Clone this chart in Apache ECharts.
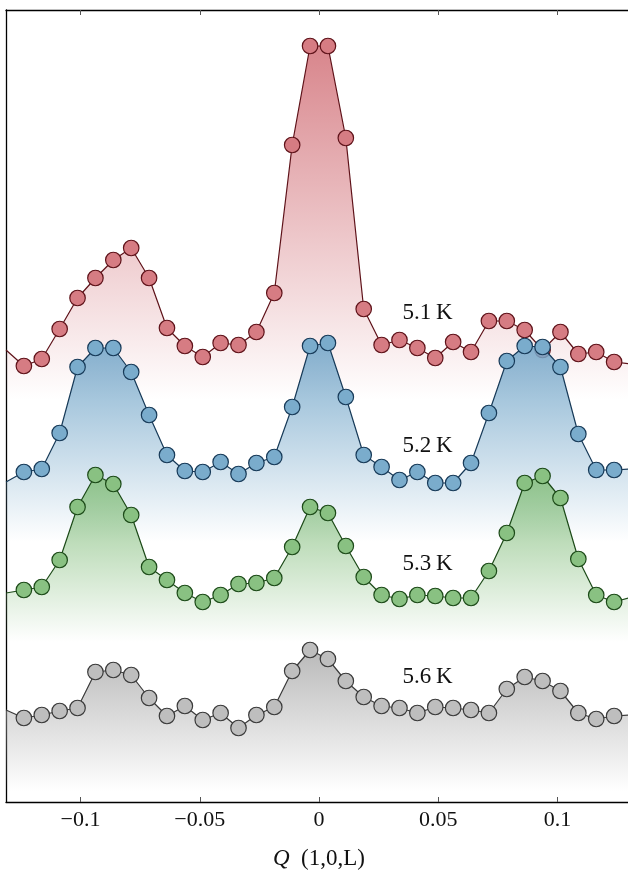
<!DOCTYPE html>
<html>
<head>
<meta charset="utf-8">
<script src="https://cdn.jsdelivr.net/npm/echarts@6/dist/echarts.min.js"></script>
<style>html,body{margin:0;padding:0;background:#fff}#c{width:628px;height:870px}</style>
</head>
<body>
<div id="c"></div>
<script>
// Q positions (first and last points lie at the frame edges, drawn without markers)
const qValues = [-0.13125, -0.12375, -0.11625, -0.10875, -0.10125, -0.09375, -0.08625, -0.07875, -0.07125, -0.06375,
  -0.05625, -0.04875, -0.04125, -0.03375, -0.02625, -0.01875, -0.01125, -0.00375, 0.00375, 0.01125,
  0.01875, 0.02625, 0.03375, 0.04125, 0.04875, 0.05625, 0.06375, 0.07125, 0.07875, 0.08625,
  0.09375, 0.10125, 0.10875, 0.11625, 0.12375, 0.13125];

// intensities (with vertical offsets already included)
const i51 = [4.52, 4.36, 4.43, 4.73, 5.04, 5.24, 5.42, 5.54, 5.24, 4.74, 4.56, 4.45, 4.59, 4.57, 4.70, 5.09, 6.57, 7.56, 7.56, 6.64,
  4.93, 4.57, 4.62, 4.54, 4.44, 4.60, 4.50, 4.81, 4.81, 4.72, 4.52, 4.70, 4.48, 4.50, 4.40, 4.38];
const i52 = [3.20, 3.30, 3.33, 3.69, 4.35, 4.54, 4.54, 4.30, 3.87, 3.47, 3.31, 3.30, 3.40, 3.28, 3.39, 3.45, 3.95, 4.56, 4.59, 4.05,
  3.47, 3.35, 3.22, 3.30, 3.19, 3.19, 3.39, 3.89, 4.41, 4.56, 4.55, 4.35, 3.68, 3.32, 3.32, 3.33];
const i53 = [2.09, 2.12, 2.15, 2.42, 2.95, 3.27, 3.18, 2.87, 2.35, 2.22, 2.09, 2.00, 2.07, 2.18, 2.19, 2.24, 2.55, 2.95, 2.89, 2.56,
  2.25, 2.07, 2.03, 2.07, 2.06, 2.04, 2.04, 2.31, 2.69, 3.19, 3.26, 3.04, 2.43, 2.07, 2.00, 2.05];
const i56 = [0.92, 0.84, 0.87, 0.91, 0.94, 1.30, 1.32, 1.27, 1.04, 0.86, 0.96, 0.82, 0.89, 0.74, 0.87, 0.95, 1.31, 1.52, 1.43, 1.21,
  1.05, 0.96, 0.94, 0.89, 0.95, 0.94, 0.92, 0.89, 1.13, 1.25, 1.21, 1.11, 0.89, 0.83, 0.86, 0.87];

const seriesNames = ['5.1\u2009K', '5.2\u2009K', '5.3\u2009K', '5.6\u2009K'];
const baselines = [4.02, 2.60, 1.60, 0.10];
const labelQ = [0.0455, 0.0455, 0.0455, 0.0455];
const labelY = [4.89, 3.56, 2.38, 1.25];
const tickValues = [-0.1, -0.05, 0, 0.05, 0.1];

const fills = ['#d67c83', '#7aaccc', '#89c182', '#bebebe'];
const edges = ['#5e1219', '#173a58', '#1c4a18', '#3a3a3a'];
const fillRGB = [[212,120,127],[118,168,202],[134,191,127],[178,178,178]];

const chart = echarts.init(document.getElementById('c'), null, {renderer: 'canvas'});
const allData = [i51, i52, i53, i56];

const series = allData.map((vals, s) => ({
  type: 'line',
  name: seriesNames[s],
  data: qValues.map((q, i) => ({
    value: [q, vals[i]],
    symbol: (i === 0 || i === qValues.length - 1) ? 'none' : 'circle'
  })),
  symbolSize: 15.5,
  showAllSymbol: true,
  clip: true,
  z: 2 + s,
  lineStyle: {color: edges[s], width: 1.2},
  itemStyle: {color: fills[s], borderColor: edges[s], borderWidth: 1.2, opacity: 1},
  areaStyle: {
    origin: baselines[s],
    opacity: 1,
    color: new echarts.graphic.LinearGradient(0, 0, 0, 1, [
      {offset: 0, color: `rgba(${fillRGB[s].join(',')},0.9)`},
      {offset: 1, color: `rgba(${fillRGB[s].join(',')},0)`}
    ])
  },
  emphasis: {disabled: true},
  markPoint: {
    symbol: 'circle',
    symbolSize: 0,
    silent: true,
    data: [{coord: [labelQ[s], labelY[s]], name: seriesNames[s]}],
    label: {
      show: true, position: 'inside', formatter: seriesNames[s],
      fontFamily: 'Liberation Serif', fontSize: 23, color: '#111'
    }
  }
}));

const fmt = v => (v < 0 ? '\u2212' + String(-v) : String(v));

chart.setOption({
  animation: false,
  backgroundColor: '#fff',
  grid: {left: 6, right: -4, top: 10, bottom: 68, containLabel: false, outerBoundsMode: 'none'},
  xAxis: [{
    type: 'value', min: -0.13125, max: 0.13125, position: 'bottom',
    axisLine: {show: true, onZero: false, lineStyle: {color: '#000', width: 1.3}},
    axisTick: {show: true, inside: true, length: 5, customValues: tickValues, lineStyle: {color: '#555', width: 1}},
    axisLabel: {show: true, customValues: tickValues, formatter: fmt, margin: 7,
      fontFamily: 'Liberation Serif', fontSize: 22, color: '#111'},
    splitLine: {show: false},
    name: '{i|Q}  (1,0,L)', nameLocation: 'middle', nameGap: 45,
    nameTextStyle: {fontFamily: 'Liberation Serif', fontSize: 23, color: '#111',
      rich: {i: {fontStyle: 'italic', fontFamily: 'Liberation Serif', fontSize: 23, color: '#111'}}}
  }, {
    type: 'value', min: -0.13125, max: 0.13125, position: 'top',
    axisLine: {show: true, onZero: false, lineStyle: {color: '#000', width: 1.3}},
    axisTick: {show: true, inside: true, length: 5, customValues: tickValues, lineStyle: {color: '#555', width: 1}},
    axisLabel: {show: false},
    splitLine: {show: false}
  }],
  yAxis: {
    type: 'value', min: 0, max: 7.92,
    axisLine: {show: true, onZero: false, lineStyle: {color: '#000', width: 1.3}},
    axisTick: {show: false}, axisLabel: {show: false}, splitLine: {show: false}
  },
  series: series
});
</script>
</body>
</html>
